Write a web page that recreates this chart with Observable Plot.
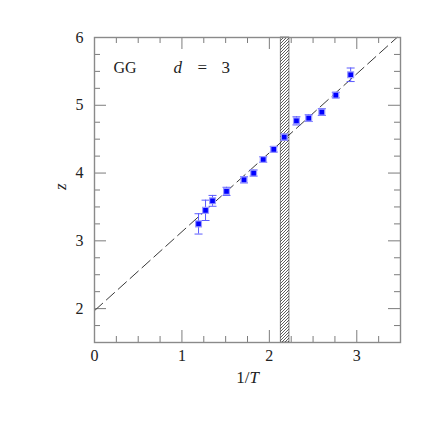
<!DOCTYPE html>
<html><head><meta charset="utf-8">
<script src="https://cdn.jsdelivr.net/npm/d3@7"></script>
<script src="https://cdn.jsdelivr.net/npm/@observablehq/plot@0.6"></script>
<style>
body{margin:0;background:#fff;overflow:hidden}
svg, svg text { font-family: "Liberation Serif", "DejaVu Serif", serif !important; }
</style>
</head><body><div id="chart"></div>
<script>
// data
const invT = [1.19, 1.27, 1.35, 1.51, 1.71, 1.82, 1.93, 2.05, 2.17, 2.31, 2.45, 2.60, 2.76, 2.93];
const zVal = [3.25, 3.45, 3.59, 3.73, 3.90, 4.00, 4.20, 4.35, 4.53, 4.77, 4.81, 4.90, 5.15, 5.45];
const zErr = [0.15, 0.15, 0.08, 0.06, 0.045, 0.045, 0.04, 0.04, 0.045, 0.06, 0.05, 0.05, 0.04, 0.10];
const fitX = [0, 3.46];
const fitY = [1.97, 6.0];
const bandX = [2.13, 2.23];
const xMajor = [0, 1, 2, 3];
const xMinor = [0.25, 0.5, 0.75, 1.25, 1.5, 1.75, 2.25, 2.5, 2.75, 3.25];
const yMajor = [2, 3, 4, 5, 6];
const yMinor = [1.75, 2.25, 2.5, 2.75, 3.25, 3.5, 3.75, 4.25, 4.5, 4.75, 5.25, 5.5, 5.75];

const points = invT.map((x, i) => ({x, y: zVal[i], lo: zVal[i] - zErr[i], hi: zVal[i] + zErr[i]}));
const fit = fitX.map((x, i) => ({x, y: fitY[i]}));
const band = [{x1: bandX[0], x2: bandX[1]}];

const W = 436, H = 436, mT = 37, mB = 94, mL = 94, mR = 36;
const iW = W - mL - mR, iH = H - mT - mB;
const MAJ = 12, MIN = 6;
const font = "Liberation Serif";
const capSymbol = {draw(ctx, size) { const w = 4; ctx.moveTo(-w, 0); ctx.lineTo(w, 0); }};
const fmt = d => String(d);
const tickColor = "#444";

const plot = Plot.plot({
  width: W, height: H,
  marginTop: mT, marginBottom: mB, marginLeft: mL, marginRight: mR,
  style: {fontFamily: font, fontSize: "15px", color: "#222", background: "#fff"},
  x: {domain: [0, 3.5]},
  y: {domain: [1.5, 6]},
  marks: [
    Plot.rect(band, {x1: "x1", x2: "x2", fill: "url(#hatch)", stroke: "#333", strokeWidth: 0.6}),
    Plot.line(fit, {x: "x", y: "y", stroke: "#222", strokeWidth: 0.9, strokeDasharray: "11,5"}),
    Plot.ruleX(points, {x: "x", y1: "lo", y2: "hi", stroke: "#5b5bff", strokeWidth: 1}),
    Plot.dot(points, {x: "x", y: "lo", symbol: capSymbol, r: 4, stroke: "#5b5bff", strokeWidth: 1}),
    Plot.dot(points, {x: "x", y: "hi", symbol: capSymbol, r: 4, stroke: "#5b5bff", strokeWidth: 1}),
    Plot.dot(points, {x: "x", y: "y", symbol: "square", r: 3.3, fill: "#0000ff", stroke: "#9a9aff", strokeWidth: 1.2}),
    // inward ticks, all four sides
    Plot.tickX(xMajor, {x: d => d, insetTop: iH - MAJ, stroke: tickColor, strokeWidth: 0.7}),
    Plot.tickX(xMinor, {x: d => d, insetTop: iH - MIN, stroke: tickColor, strokeWidth: 0.7}),
    Plot.tickX(xMajor, {x: d => d, insetBottom: iH - MAJ, stroke: tickColor, strokeWidth: 0.7}),
    Plot.tickX(xMinor, {x: d => d, insetBottom: iH - MIN, stroke: tickColor, strokeWidth: 0.7}),
    Plot.tickY(yMajor, {y: d => d, insetRight: iW - MAJ, stroke: tickColor, strokeWidth: 0.7}),
    Plot.tickY(yMinor, {y: d => d, insetRight: iW - MIN, stroke: tickColor, strokeWidth: 0.7}),
    Plot.tickY(yMajor, {y: d => d, insetLeft: iW - MAJ, stroke: tickColor, strokeWidth: 0.7}),
    Plot.tickY(yMinor, {y: d => d, insetLeft: iW - MIN, stroke: tickColor, strokeWidth: 0.7}),
    Plot.frame({stroke: "#8a8a8a", strokeWidth: 1.4}),
    Plot.axisX({ticks: xMajor, tickSize: 0, tickPadding: 7, label: null, fontSize: 16, tickFormat: fmt, fontFamily: font}),
    Plot.axisY({ticks: yMajor, tickSize: 0, tickPadding: 11, label: null, fontSize: 16, tickFormat: fmt, fontFamily: font}),
    // axis titles
    Plot.text(["1/"], {frameAnchor: "bottom", text: d => d, textAnchor: "end", dx: 2, dy: 40, fontSize: 17, fontFamily: font}),
    Plot.text(["T"], {frameAnchor: "bottom", text: d => d, textAnchor: "start", dx: 2, dy: 40, fontSize: 17, fontStyle: "italic", fontFamily: font}),
    Plot.text(["z"], {frameAnchor: "left", text: d => d, rotate: -90, dx: -34, fontSize: 17, fontStyle: "italic", fontFamily: font}),
    // annotation
    Plot.text(["GG"], {frameAnchor: "top-left", text: d => d, textAnchor: "start", lineAnchor: "middle", dx: 19, dy: 30, fontSize: 16, fontFamily: font}),
    Plot.text(["d"], {frameAnchor: "top-left", text: d => d, textAnchor: "start", lineAnchor: "middle", dx: 79, dy: 30, fontSize: 17, fontStyle: "italic", fontFamily: font}),
    Plot.text(["="], {frameAnchor: "top-left", text: d => d, textAnchor: "start", lineAnchor: "middle", dx: 103, dy: 30, fontSize: 17, fontFamily: font}),
    Plot.text(["3"], {frameAnchor: "top-left", text: d => d, textAnchor: "start", lineAnchor: "middle", dx: 127, dy: 30, fontSize: 17, fontFamily: font})
  ]
});

// hatch pattern for the vertical band
const svg = d3.select(plot);
const defs = svg.insert("defs", ":first-child");
const pat = defs.append("pattern").attr("id", "hatch").attr("patternUnits", "userSpaceOnUse")
  .attr("width", 3).attr("height", 3);
pat.append("rect").attr("width", 3).attr("height", 3).attr("fill", "#fff");
pat.append("path").attr("d", "M-1,1 L1,-1 M0,3 L3,0 M2,4 L4,2").attr("stroke", "#333").attr("stroke-width", 0.8);

document.getElementById("chart").appendChild(plot);
</script>
</body></html>
